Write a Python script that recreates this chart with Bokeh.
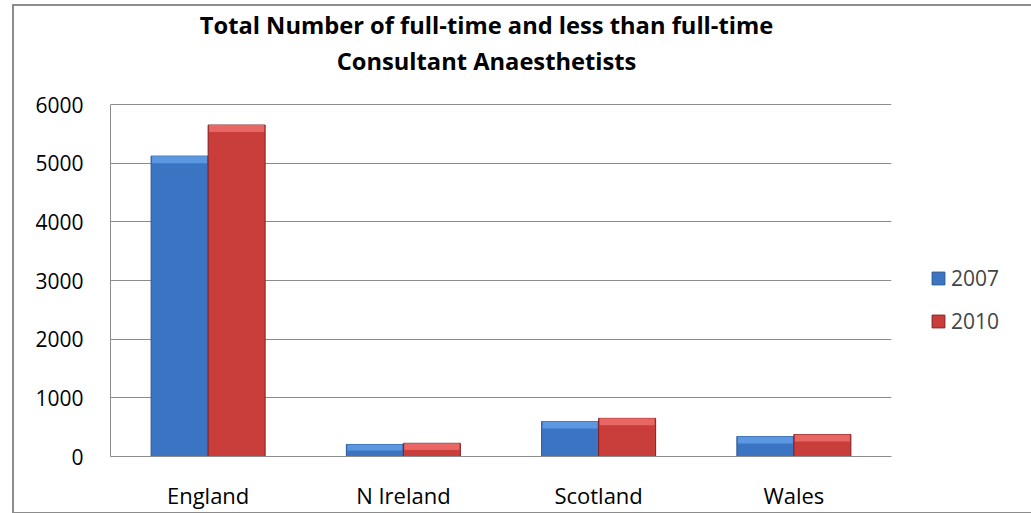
from bokeh.plotting import figure
from bokeh.models import (ColumnDataSource, FactorRange, Legend, LegendItem, Label,
                          Range1d, FixedTicker)
from bokeh.transform import dodge
from bokeh.embed import file_html
from bokeh.resources import INLINE

countries = ["England", "N Ireland", "Scotland", "Wales"]
years = ["2007", "2010"]
v2007 = [5120, 205, 595, 340]
v2010 = [5650, 225, 650, 375]
y_ticks = [0, 1000, 2000, 3000, 4000, 5000, 6000]
title_lines = ["Total Number of full-time and less than full-time",
               "Consultant Anaesthetists"]

FONT = "Open Sans"
YMAX = 6000
FW = 781            # frame width (px)
PLOT_H = 352        # px between 0 and 6000
TOP_EXTRA = 94      # px of frame above 6000, used for the title
FH = PLOT_H + TOP_EXTRA
u = YMAX / float(PLOT_H)          # data units per pixel
y_end = FH * u

p = figure(x_range=FactorRange(*countries), y_range=Range1d(0, y_end),
           frame_width=FW, frame_height=FH, output_backend="svg", toolbar_location=None,
           min_border_left=96, min_border_right=130, min_border_top=4,
           min_border_bottom=52)
p.title.visible = False
p.styles = {"margin-left": "12px", "margin-top": "4px",
            "border-left": "2px solid #8c8c8c", "border-top": "2px solid #8c8c8c",
            "border-bottom": "2px solid #8c8c8c"}

# bevel height ~7px expressed in data units, at most half the bar
def bevel(vals):
    return [min(7 * u, v / 2) for v in vals]

src = ColumnDataSource(dict(x=countries, v07=v2007, v10=v2010,
                            b07=[v - b for v, b in zip(v2007, bevel(v2007))],
                            b10=[v - b for v, b in zip(v2010, bevel(v2010))]))

W = 0.292
off = 0.146
r07 = p.vbar(x=dodge("x", -off, range=p.x_range), top="v07", width=W, source=src,
             fill_color="#3b74c2", line_color="#2a578f", line_width=1)
p.vbar(x=dodge("x", -off, range=p.x_range), top="v07", bottom="b07", width=W - 0.01,
       source=src, fill_color="#5c98e2", line_color=None)
r10 = p.vbar(x=dodge("x", off, range=p.x_range), top="v10", width=W, source=src,
             fill_color="#c93d3a", line_color="#7e2020", line_width=1)
p.vbar(x=dodge("x", off, range=p.x_range), top="v10", bottom="b10", width=W - 0.01,
       source=src, fill_color="#e86664", line_color=None)

# axes & grid
p.outline_line_color = None
p.xgrid.grid_line_color = None
p.ygrid.grid_line_color = "#8c8c8c"
p.ygrid.grid_line_width = 1
p.yaxis.ticker = FixedTicker(ticks=y_ticks)
p.yaxis.bounds = (0, YMAX)
for ax in (p.xaxis, p.yaxis):
    ax.axis_line_color = "#8c8c8c"
    ax.major_tick_line_color = None
    ax.minor_tick_line_color = None
    ax.major_label_text_font = FONT
    ax.major_label_text_color = "#000000"
p.yaxis.major_label_text_font_size = "21px"
p.xaxis.major_label_text_font_size = "22px"
p.yaxis.major_label_standoff = 21
p.xaxis.major_label_standoff = 17

# two-line title, centred slightly left of the frame centre
px_per_cat = FW / float(len(countries))
tx = 376 / px_per_cat
for txt, above in ((title_lines[0], 432), (title_lines[1], 396)):
    p.add_layout(Label(x=tx, y=above * u, text=txt, text_align="center",
                       text_baseline="middle", text_font=FONT,
                       text_font_size="23.7px", text_font_style="bold",
                       text_color="#000000"))

legend = Legend(items=[LegendItem(label=years[0], renderers=[r07]),
                       LegendItem(label=years[1], renderers=[r10])],
                location=(39, 121), border_line_color=None, margin=0,
                label_text_font=FONT, label_text_font_size="21px",
                glyph_width=16, glyph_height=16, spacing=15,
                background_fill_alpha=0)
p.add_layout(legend, "right")

open("out.html", "w").write(file_html(p, INLINE))
